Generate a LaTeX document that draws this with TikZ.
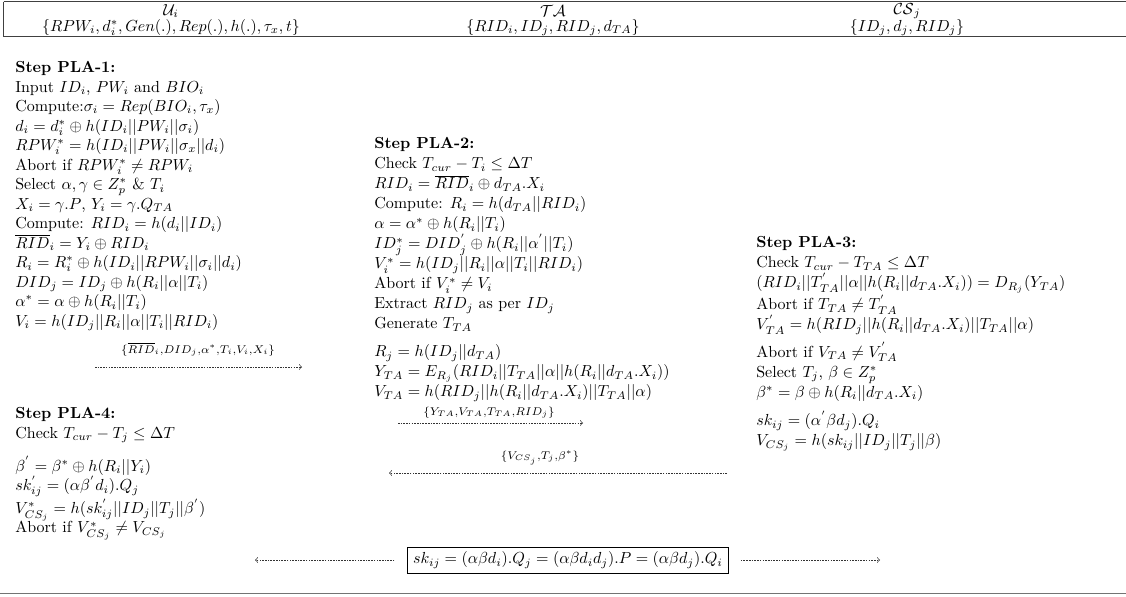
\documentclass[tikz,border=0pt]{standalone}
\usepackage{amsmath,amssymb}
\newcommand{\colfont}[1]{\fontsize{10}{#1}\selectfont}
\begin{document}
\begin{tikzpicture}[x=0.625pt,y=-0.625pt,
  blk/.style={anchor=north west,align=left,inner sep=0pt},
  hdr/.style={anchor=center,inner sep=0pt},
  rule/.style={line width=0.6pt,black!75},
  msg/.style={dash pattern=on 1pt off 0.7pt,line width=0.4pt,black!80,->},
  lbl/.style={inner sep=0pt,anchor=base}]
\useasboundingbox (0,0) rectangle (1126,596);
% header rules
\draw[rule] (3.5,1.5) -- (1126,1.5);
\draw[rule] (3.5,1.5) -- (3.5,36.5);
\draw[rule] (3.5,36.5) -- (1126,36.5);
\draw[line width=1.2pt,black!55] (0,593.5) -- (1126,593.5);
% header
\node[hdr] (hu) at (171,11) {$\mathcal{U}_i$};
\node[hdr] (hus) at (171,27.5) {$\{RPW_i, d_i^*, Gen(.), Rep(.), h(.), \tau_x, t\}$};
\node[hdr] (hta) at (553,11) {$\mathcal{TA}$};
\node[hdr] (htas) at (553,27.5) {$\{RID_i, ID_j, RID_j, d_{TA}\}$};
\node[hdr] (hcs) at (907,11) {$\mathcal{CS}_j$};
\node[hdr] (hcss) at (907,27.5) {$\{ID_j, d_j, RID_j\}$};
% step 1
\node[blk,font=\colfont{12.2pt}] (s1) at (15,61) {\textbf{Step PLA-1:}\\
Input $ID_i$, $PW_i$ and $BIO_i$\\
Compute:$\sigma_i = Rep(BIO_i,\tau_x)$\\
$d_i = d_i^* \oplus h(ID_i||PW_i||\sigma_i)$\\
$RPW_i^* = h(ID_i||PW_i||\sigma_x||d_i)$\\
Abort if $RPW_i^* \neq RPW_i$\\
Select $\alpha,\gamma \in Z_p^*$ \& $T_i$\\
$X_i = \gamma.P$, $Y_i = \gamma.Q_{TA}$\\
Compute: $RID_i = h(d_i||ID_i)$\\
$\overline{RID}_i = Y_i \oplus RID_i$\\
$R_i = R_i^* \oplus h(ID_i||RPW_i||\sigma_i||d_i)$\\
$DID_j = ID_j \oplus h(R_i||\alpha||T_i)$\\
$\alpha^* = \alpha \oplus h(R_i||T_i)$\\
$V_i = h(ID_j||R_i||\alpha||T_i||RID_i)$};
% step 2
\node[blk,font=\colfont{12.5pt}] (s2) at (374,137.5) {\textbf{Step PLA-2:}\\
Check $T_{cur} - T_i \leq \Delta T$\\
$RID_i = \overline{RID}_i \oplus d_{TA}.X_i$\\
Compute: $R_i = h(d_{TA}||RID_i)$\\
$\alpha = \alpha^* \oplus h(R_i||T_i)$\\
$ID_j^* = DID_j^{'} \oplus h(R_i||\alpha^{'}||T_i)$\\
$V_i^* = h(ID_j||R_i||\alpha||T_i||RID_i)$\\
Abort if $V_i^* \neq V_i$\\
Extract $RID_j$ as per $ID_j$\\
Generate $T_{TA}$\\[5pt]
$R_j = h(ID_j||d_{TA})$\\
$Y_{TA} = E_{R_j}(RID_i||T_{TA}||\alpha||h(R_i||d_{TA}.X_i))$\\
$V_{TA} = h(RID_j||h(R_i||d_{TA}.X_i)||T_{TA}||\alpha)$};
% step 3
\node[blk,font=\colfont{12.4pt}] (s3) at (756,236.5) {\textbf{Step PLA-3:}\\
Check $T_{cur} - T_{TA} \leq \Delta T$\\
$(RID_i||T_{TA}^{'}||\alpha||h(R_i||d_{TA}.X_i)) = D_{R_j}(Y_{TA})$\\
Abort if $T_{TA} \neq T_{TA}^{'}$\\
$V_{TA}^{'} = h(RID_j||h(R_i||d_{TA}.X_i)||T_{TA}||\alpha)$\\[5pt]
Abort if $V_{TA} \neq V_{TA}^{'}$\\
Select $T_j$, $\beta \in Z_p^*$\\
$\beta^* = \beta \oplus h(R_i||d_{TA}.X_i)$\\[5.5pt]
$sk_{ij} = (\alpha^{'}\beta d_j).Q_i$\\
$V_{CS_j} = h(sk_{ij}||ID_j||T_j||\beta)$};
% step 4
\node[blk] (s4) at (15,407.5) {\textbf{Step PLA-4:}\\
Check $T_{cur} - T_j \leq \Delta T$\\[7.5pt]
$\beta^{'} = \beta^* \oplus h(R_i||Y_i)$\\
$sk_{ij}^{'} = (\alpha\beta^{'}d_i).Q_j$\\
$V_{CS_j}^* = h(sk_{ij}^{'}||ID_j||T_j||\beta^{'})$\\
Abort if $V_{CS_j}^* \neq V_{CS_j}$};
% messages
\coordinate (m1a) at (95,367); \coordinate (m1b) at (302,367);
\draw[msg] (m1a) -- (m1b);
\node[lbl] (l1) at (198,353) {$\scriptstyle\{\overline{RID}_i,DID_j,\alpha^*,T_i,V_i,X_i\}$};
\coordinate (m2a) at (398,423); \coordinate (m2b) at (583,423);
\draw[msg] (m2a) -- (m2b);
\node[lbl] (l2) at (489,415) {$\scriptstyle\{Y_{TA},V_{TA},T_{TA},RID_j\}$};
\coordinate (m3a) at (727,473); \coordinate (m3b) at (389,473);
\draw[msg] (m3a) -- (m3b);
\node[lbl] (l3) at (540,459) {$\scriptstyle\{V_{CS_j},T_j,\beta^*\}$};
% final key
\node[draw,line width=0.4pt,inner xsep=3.5pt,inner ysep=3pt] (key) at (568,560) {$sk_{ij} = (\alpha\beta d_i).Q_j = (\alpha\beta d_i d_j).P = (\alpha\beta d_j).Q_i$};
\coordinate (kl) at (255,560); \coordinate (kr) at (880,560);
\draw[msg] ([xshift=-8pt]key.west) -- (kl);
\draw[msg] ([xshift=7.5pt]key.east) -- (kr);
\end{tikzpicture}
\end{document}
